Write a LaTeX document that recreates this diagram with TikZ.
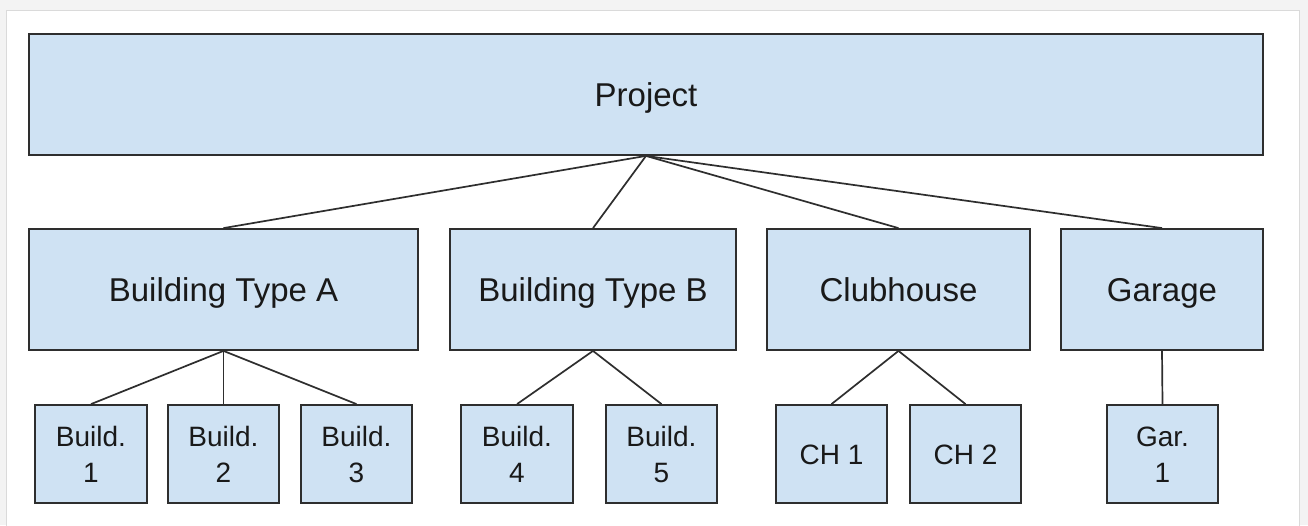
\documentclass[tikz,border=0pt]{standalone}
\usepackage{fontspec}
\setmainfont{Liberation Sans}
\definecolor{boxfill}{HTML}{CFE2F3}
\definecolor{boxline}{HTML}{2E2E2E}
\definecolor{pagebg}{HTML}{F3F3F3}
\definecolor{frameline}{HTML}{DADADA}
\begin{document}
\begin{tikzpicture}[x=1pt,y=-1pt,
  box/.style={draw=boxline,fill=boxfill,line width=1.8pt,inner sep=0pt,text=black!90},
  big/.style={box,font=\fontsize{33}{38}\selectfont,text height=23.8pt,text depth=0pt},
  small/.style={box,font=\fontsize{28}{36}\selectfont,align=center,text depth=0pt},
  one/.style={small,text height=20.2pt},
  two/.style={small,text height=56.2pt},
  conn/.style={draw=boxline,line width=1.7pt}]
\useasboundingbox (0,0) rectangle (1308,525);
\fill[pagebg] (0,0) rectangle (1308,525);
\filldraw[fill=white,draw=frameline,line width=1pt] (6,10) rectangle (1299,540);
% top
\node[big,minimum width=1234pt,minimum height=121pt] (proj) at (646,94.5) {Project};
% second row
\node[big,minimum width=389pt,minimum height=121pt] (bta) at (223.5,289.5) {Building Type A};
\node[big,minimum width=286pt,minimum height=121pt] (btb) at (593,289.5) {Building Type B};
\node[big,minimum width=263pt,minimum height=121pt] (club) at (898.5,289.5) {Clubhouse};
\node[big,minimum width=202pt,minimum height=121pt] (gar) at (1162,289.5) {Garage};
% third row
\node[two,minimum width=112pt,minimum height=98pt] (b1) at (91,454) {Build.\\1};
\node[two,minimum width=111pt,minimum height=98pt] (b2) at (223.5,454) {Build.\\2};
\node[two,minimum width=111pt,minimum height=98pt] (b3) at (356.5,454) {Build.\\3};
\node[two,minimum width=112pt,minimum height=98pt] (b4) at (517,454) {Build.\\4};
\node[two,minimum width=111pt,minimum height=98pt] (b5) at (661.5,454) {Build.\\5};
\node[one,minimum width=111pt,minimum height=98pt] (ch1) at (831.5,454) {CH 1};
\node[one,minimum width=111pt,minimum height=98pt] (ch2) at (965.5,454) {CH 2};
\node[two,minimum width=111pt,minimum height=98pt] (g1) at (1162.5,454) {Gar.\\1};
% connectors
\foreach \t in {bta,btb,club,gar} \draw[conn] (proj.south) -- (\t.north);
\foreach \t in {b1,b2,b3} \draw[conn] (bta.south) -- (\t.north);
\foreach \t in {b4,b5} \draw[conn] (btb.south) -- (\t.north);
\foreach \t in {ch1,ch2} \draw[conn] (club.south) -- (\t.north);
\draw[conn] (gar.south) -- (g1.north);
\end{tikzpicture}
\end{document}
